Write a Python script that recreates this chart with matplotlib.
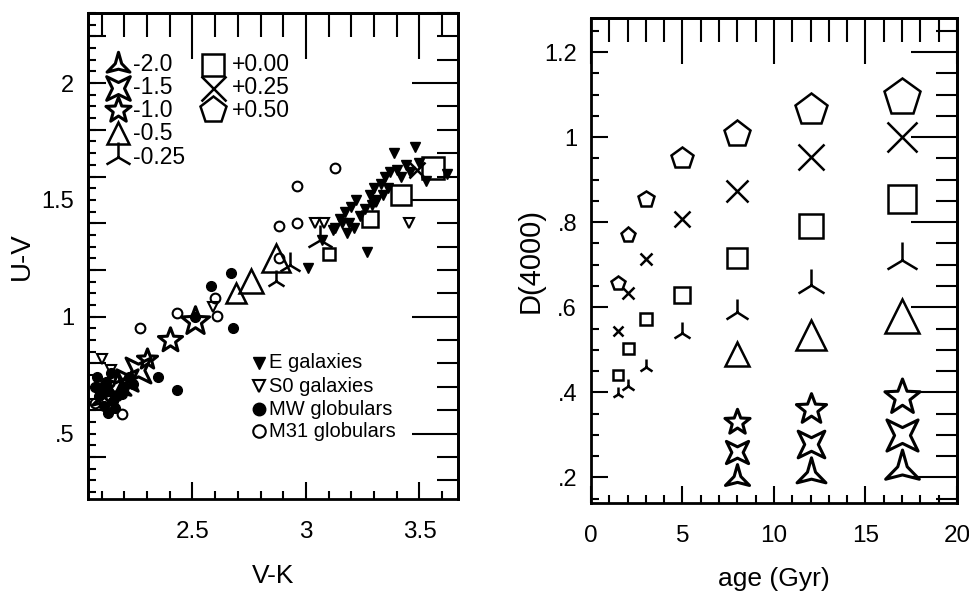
import matplotlib
matplotlib.use("Agg")
import numpy as np
import matplotlib.pyplot as plt
from matplotlib.path import Path
from matplotlib.ticker import MultipleLocator, FuncFormatter

plt.rcParams['font.family'] = ['Liberation Sans', 'DejaVu Sans']


def star(n, inner, rot=0):
    # concave n-pointed star outline used for the metal-poor models
    ang = np.deg2rad(90 + rot + np.arange(2 * n) * 180.0 / n)
    rad = np.where(np.arange(2 * n) % 2 == 0, 1.0, inner)
    verts = np.column_stack([rad * np.cos(ang), rad * np.sin(ang)])
    verts = np.vstack([verts, verts[:1]])
    return Path(verts, closed=True)


# ---- model grid: marker per metallicity ----
feh_labels = ['-2.0', '-1.5', '-1.0', '-0.5', '-0.25', '+0.00', '+0.25', '+0.50']
feh_markers = [star(3, 0.28), star(4, 0.36, 45), star(5, 0.42), '^', '2', 's', 'x', 'p']
marker_scale = [1.0, 0.8, 0.95, 0.88, 0.95, 0.72, 0.76, 1.0]
marker_lw = [2.2, 2.2, 2.2, 1.8, 1.8, 1.8, 1.8, 1.8]
legend_ms = [19, 17, 19, 16, 21, 16, 18, 20]

ages = [1.5, 2, 3, 5, 8, 12, 17]
age_size = [10, 11, 12, 16, 20, 24, 28]

# right panel: D(4000) vs age
age_old = [8, 12, 17]
d4000_m20 = [0.198, 0.207, 0.221]
d4000_m15 = [0.259, 0.278, 0.299]
d4000_m10 = [0.330, 0.362, 0.388]
d4000_m05 = [0.490, 0.534, 0.580]
d4000_m025 = [0.397, 0.414, 0.459, 0.539, 0.588, 0.652, 0.710]
d4000_p00 = [0.442, 0.504, 0.572, 0.628, 0.717, 0.790, 0.854]
d4000_p025 = [0.544, 0.633, 0.713, 0.807, 0.873, 0.953, 1.000]
d4000_p050 = [0.656, 0.770, 0.854, 0.950, 1.007, 1.064, 1.094]

right_sets = [(age_old, d4000_m20), (age_old, d4000_m15), (age_old, d4000_m10),
              (age_old, d4000_m05), (ages, d4000_m025), (ages, d4000_p00),
              (ages, d4000_p025), (ages, d4000_p050)]

# left panel: model U-V vs V-K
age_p00_left = [5, 8, 12, 17]
age_p025_left = [8]
vk_m20, uv_m20 = [2.10, 2.13, 2.17], [0.65, 0.68, 0.70]
vk_m15, uv_m15 = [2.16, 2.21, 2.26], [0.70, 0.73, 0.77]
vk_m10, uv_m10 = [2.30, 2.40, 2.51], [0.82, 0.90, 0.98]
vk_m05, uv_m05 = [2.69, 2.76, 2.87], [1.10, 1.155, 1.25]
vk_m025, uv_m025 = [2.87, 2.93, 3.06], [1.155, 1.22, 1.33]
vk_p00, uv_p00 = [3.10, 3.28, 3.42, 3.56], [1.27, 1.42, 1.52, 1.635]
vk_p025, uv_p025 = [3.49], [1.63]

left_sets = [(age_old, vk_m20, uv_m20), (age_old, vk_m15, uv_m15),
             (age_old, vk_m10, uv_m10), (age_old, vk_m05, uv_m05),
             (age_old, vk_m025, uv_m025), (age_p00_left, vk_p00, uv_p00),
             (age_p025_left, vk_p025, uv_p025)]

# observations
e_vk = [3.01, 3.07, 3.27, 3.13, 3.15, 3.17, 3.19, 3.20, 3.22, 3.18, 3.24, 3.26, 3.28,
        3.30, 3.31, 3.33, 3.35, 3.36, 3.37, 3.39, 3.40, 3.42, 3.44, 3.46, 3.48, 3.50,
        3.53, 3.62, 3.12, 3.21, 3.34, 3.29, 3.16]
e_uv = [1.21, 1.33, 1.275, 1.38, 1.42, 1.45, 1.40, 1.47, 1.50, 1.36, 1.43, 1.46, 1.52,
        1.55, 1.50, 1.57, 1.60, 1.55, 1.62, 1.70, 1.63, 1.60, 1.65, 1.62, 1.725, 1.66,
        1.58, 1.61, 1.37, 1.38, 1.52, 1.48, 1.40]
s0_vk = [3.04, 3.08, 3.456, 2.10, 2.59, 3.31, 2.14]
s0_uv = [1.40, 1.40, 1.40, 0.82, 1.04, 1.49, 0.77]
mw_vk = [2.67, 2.58, 2.68, 2.35, 2.43, 2.13, 2.13, 2.10, 2.15, 2.12, 2.17, 2.11,
         2.20, 2.14, 2.22, 2.09, 2.51, 2.07, 2.16, 2.19, 2.08, 2.24]
mw_uv = [1.185, 1.133, 0.953, 0.74, 0.687, 0.59, 0.68, 0.70, 0.64, 0.72, 0.66, 0.62,
         0.70, 0.76, 0.74, 0.66, 1.00, 0.70, 0.61, 0.67, 0.74, 0.71]
m31_vk = [3.13, 2.96, 2.88, 2.96, 2.88, 2.60, 2.61, 2.43, 2.27, 2.19, 2.11, 2.07]
m31_uv = [1.635, 1.56, 1.39, 1.40, 1.25, 1.08, 1.005, 1.016, 0.95, 0.583, 0.68, 0.63]

obs_labels = ['E galaxies', 'S0 galaxies', 'MW globulars', 'M31 globulars']


def nolead(v, pos):
    s = '%g' % v
    return s[1:] if s.startswith('0.') else s


def frame(ax, xmaj, xmin, ymaj, ymin, ymin_left=None, ymed_left=None):
    ax.xaxis.set_major_locator(MultipleLocator(xmaj))
    ax.xaxis.set_minor_locator(MultipleLocator(xmin))
    ax.yaxis.set_major_locator(MultipleLocator(ymaj))
    ax.yaxis.set_minor_locator(MultipleLocator(ymin_left or ymin))
    ax.yaxis.set_major_formatter(FuncFormatter(nolead))
    ax.xaxis.set_major_formatter(FuncFormatter(nolead))
    ax.tick_params(which='both', direction='in', top=False, right=False, width=1.5)
    ax.tick_params(which='major', length=12)
    ax.tick_params(which='minor', length=6)
    ax.tick_params(axis='x', labelsize=17.5, pad=16)
    ax.tick_params(axis='y', labelsize=17, pad=10)
    for sp in ax.spines.values():
        sp.set_linewidth(2)
    if ymed_left:
        ax.tick_params(axis='y', which='major', length=6)
        med = ax.secondary_yaxis('left')
        med.yaxis.set_major_locator(MultipleLocator(ymed_left))
        med.tick_params(direction='in', length=13, width=1.5, labelleft=False)
        med.spines['left'].set_linewidth(2)
    top = ax.secondary_xaxis('top')
    top.xaxis.set_major_locator(MultipleLocator(xmaj))
    top.xaxis.set_minor_locator(MultipleLocator(xmin))
    top.tick_params(which='both', direction='in', width=1.5, labeltop=False)
    top.tick_params(which='major', length=33)
    top.tick_params(which='minor', length=17)
    top.spines['top'].set_linewidth(2)
    rgt = ax.secondary_yaxis('right')
    rgt.yaxis.set_major_locator(MultipleLocator(ymaj))
    rgt.yaxis.set_minor_locator(MultipleLocator(ymin))
    rgt.tick_params(which='both', direction='in', width=1.5, labelright=False)
    rgt.tick_params(which='major', length=33)
    rgt.tick_params(which='minor', length=15)
    rgt.spines['right'].set_linewidth(2)


fig = plt.figure(figsize=(9.69, 5.98), dpi=100)
ax1 = fig.add_axes([0.0908, 0.1656, 0.3819, 0.8127])
ax2 = fig.add_axes([0.6099, 0.1589, 0.3777, 0.8110])

# ---- left panel ----
ax1.plot(e_vk, e_uv, 'v', color='black', ms=7, ls='none')
ax1.plot(s0_vk, s0_uv, 'v', mfc='none', mec='black', mew=1.5, ms=7, ls='none')
ax1.plot(mw_vk, mw_uv, 'o', color='black', ms=7, ls='none')
ax1.plot(m31_vk, m31_uv, 'o', mfc='none', mec='black', mew=1.5, ms=7, ls='none')

for i, (a_list, xs, ys) in enumerate(left_sets):
    for a, x, y in zip(a_list, xs, ys):
        ms = age_size[ages.index(a)] * marker_scale[i] * 0.8
        ax1.plot(x, y, marker=feh_markers[i], ms=ms, mfc='none', mec='black',
                 mew=marker_lw[i], color='black', ls='none')

ax1.set_xlim(2.04, 3.67)
ax1.set_ylim(0.22, 2.30)
frame(ax1, 0.5, 0.1, 0.5, 0.1, ymin_left=0.05, ymed_left=0.2)
ax1.set_xlabel('V-K', fontsize=19, labelpad=15)
ax1.set_ylabel('U-V', fontsize=20, labelpad=5)

# metallicity key
col_x = [0.081] * 5 + [0.338] * 3
col_tx = [0.122] * 5 + [0.389] * 3
row_y = [0.893, 0.846, 0.800, 0.753, 0.703, 0.893, 0.846, 0.800]
for i, lab in enumerate(feh_labels):
    ax1.plot(col_x[i], row_y[i], marker=feh_markers[i], ms=legend_ms[i], mfc='none',
             mec='black', mew=marker_lw[i], color='black', transform=ax1.transAxes)
    ax1.text(col_tx[i], row_y[i], lab, transform=ax1.transAxes, fontsize=16.5,
             va='center', ha='left')

# observation key
obs_y = [0.280, 0.232, 0.185, 0.139]
obs_style = [dict(marker='v', color='black'), dict(marker='v', mfc='none', mec='black', mew=1.5),
             dict(marker='o', color='black'), dict(marker='o', mfc='none', mec='black', mew=1.5)]
for lab, yy, st in zip(obs_labels, obs_y, obs_style):
    ax1.plot(0.462, yy, ms=9, transform=ax1.transAxes, ls='none', **st)
    ax1.text(0.49, yy, lab, transform=ax1.transAxes, fontsize=14.5, va='center', ha='left')

# ---- right panel ----
for i, (a_list, ds) in enumerate(right_sets):
    for a, d in zip(a_list, ds):
        ms = age_size[ages.index(a)] * marker_scale[i]
        ax2.plot(a, d, marker=feh_markers[i], ms=ms, mfc='none', mec='black',
                 mew=marker_lw[i], color='black', ls='none')

ax2.set_xlim(0, 20)
ax2.set_ylim(0.14, 1.28)
frame(ax2, 5, 1, 0.2, 0.05)
ax2.set_xlabel('age (Gyr)', fontsize=19, labelpad=14)
ax2.set_ylabel('D(4000)', fontsize=21, labelpad=0)

fig.savefig('out.png', dpi=100)
